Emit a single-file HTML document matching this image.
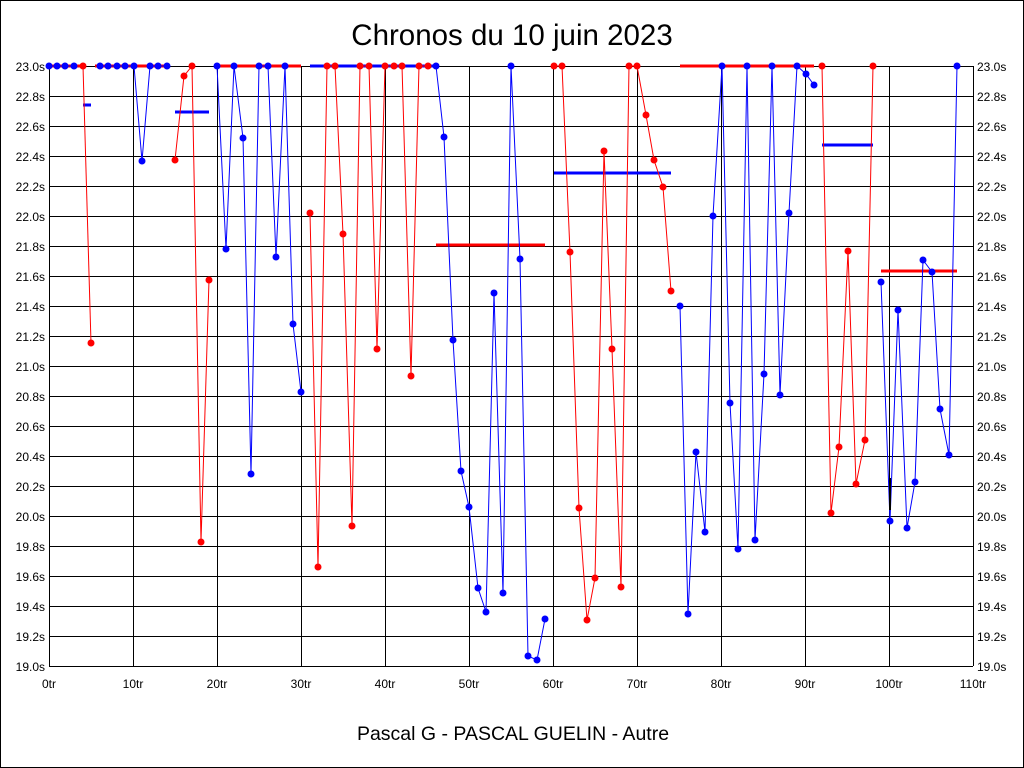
<!DOCTYPE html>
<html><head><style>body{margin:0;background:#fff}svg{display:block}</style></head><body>
<svg width="1024" height="768" xmlns="http://www.w3.org/2000/svg" font-family="Liberation Sans, sans-serif">
<rect x="0.5" y="0.5" width="1023" height="767" fill="#fff" stroke="#000"/>
<text x="512" y="45" font-size="29.5" text-anchor="middle">Chronos du 10 juin 2023</text>
<text x="513" y="740" font-size="19.5" text-anchor="middle">Pascal G - PASCAL GUELIN - Autre</text>
<g id="grid" stroke="#000" stroke-width="1"></g>
<g id="labels" font-size="12"></g>
<g id="data"></g>
</svg>
<script>
const ns="http://www.w3.org/2000/svg";
const g=document.getElementById('grid'),L=document.getElementById('labels'),D=document.getElementById('data');
function el(p,t,a){const e=document.createElementNS(ns,t);for(const k in a)e.setAttribute(k,a[k]);p.appendChild(e);return e;}
for(let i=0;i<=20;i++){const y=66+i*30;el(g,'line',{x1:49,x2:973,y1:y+.5,y2:y+.5});
const v=(23-i*0.2).toFixed(1)+'s';
let t=el(L,'text',{x:45,y:y+5,'text-anchor':'end'});t.textContent=v;
t=el(L,'text',{x:977,y:y+5});t.textContent=v;}
for(let i=0;i<=11;i++){const x=Math.round(49+i*84);el(g,'line',{x1:x+.5,x2:x+.5,y1:66,y2:666});
const t=el(L,'text',{x:x,y:688,'text-anchor':'middle'});t.textContent=(i*10)+'tr';}
function line(pts,c,w){el(D,'polyline',{points:pts.map(p=>p.join(',')).join(' '),fill:'none',stroke:c,'stroke-width':w||1});}
function dots(pts,c){pts.forEach(p=>el(D,'circle',{cx:p[0],cy:p[1],r:3.5,fill:c}));}
const R='#f00',B='#00f';
[[83,91,105,B],[175,209,112,B],[217,301,66,R],[310,436,66,B],[436,545,245,R],[554,671,173,B],[680,814,66,R],[822,873,145,B],[881,957,271,R],[49,83,66,R],[95,134,66,R],[134,167,66,R]].forEach(s=>line([[s[0],s[2]],[s[1],s[2]]],s[3],3));
const S=[
[B,[[49,66],[57,66],[65,66],[74,66]]],
[R,[[83,66],[91,343]]],
[B,[[100,66],[108,66],[117,66],[125,66],[134,66],[142,161],[150,66],[158,66],[167,66]]],
[R,[[175,160],[184,76],[192,66],[201,542],[209,280]]],
[B,[[217,66],[226,249],[234,66],[243,138],[251,474],[259,66],[268,66],[276,257],[285,66],[293,324],[301,392]]],
[R,[[310,213],[318,567],[327,66],[335,66],[343,234],[352,526],[360,66],[369,66],[377,349],[385,66],[394,66],[402,66],[411,376],[419,66],[428,66]]],
[B,[[436,66],[444,137],[453,340],[461,471],[469,507],[478,588],[486,612],[494,293],[503,593],[511,66],[520,259],[528,656],[537,660],[545,619]]],
[R,[[554,66],[562,66],[570,252],[579,508],[587,620],[595,578],[604,151],[612,349],[621,587],[629,66],[637,66],[646,115],[654,160],[663,187],[671,291]]],
[B,[[680,306],[688,614],[696,452],[705,532],[713,216],[722,66],[730,403],[738,549],[747,66],[755,540],[764,374],[772,66],[780,395],[789,213],[797,66],[806,74],[814,85]]],
[R,[[822,66],[831,513],[839,447],[848,251],[856,484],[865,440],[873,66]]],
[B,[[881,282],[890,521],[898,310],[907,528],[915,482],[923,260],[932,272],[940,409],[949,455],[957,66]]]
];
S.forEach(s=>{line(s[1],s[0],1);dots(s[1],s[0]);});
line([[890,478],[890,510]],'#000',2);
</script>
</body></html>
